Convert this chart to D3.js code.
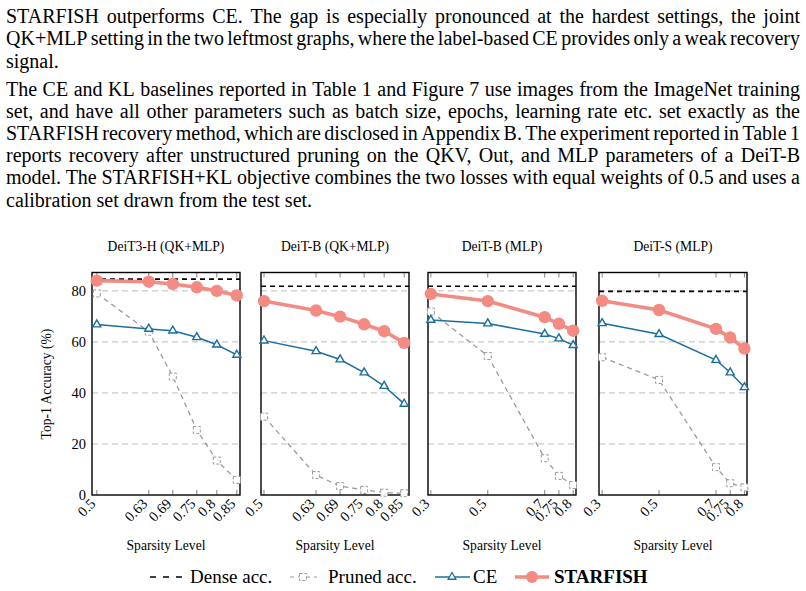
<!DOCTYPE html>
<meta charset="utf-8">
<style>
  body { margin: 0; background: #fff; }
  svg { display: block; }
  text { font-family: "Liberation Serif", "DejaVu Serif", serif; fill: #000; }
</style>
<svg width="806" height="591"></svg>
<script src="https://d3js.org/d3.v7.min.js"></script>
<script>
// paragraph lines, as set in the page
const para1 = [
  "STARFISH outperforms CE. The gap is especially pronounced at the hardest settings, the joint",
  "QK+MLP setting in the two leftmost graphs, where the label-based CE provides only a weak recovery",
  "signal."
];
const para2 = [
  "The CE and KL baselines reported in Table 1 and Figure 7 use images from the ImageNet training",
  "set, and have all other parameters such as batch size, epochs, learning rate etc.  set exactly as the",
  "STARFISH recovery method, which are disclosed in Appendix B. The experiment reported in Table 1",
  "reports recovery after unstructured pruning on the QKV, Out, and MLP parameters of a DeiT-B",
  "model. The STARFISH+KL objective combines the two losses with equal weights of 0.5 and uses a",
  "calibration set drawn from the test set."
];

// chart data
const panelTitles = ["DeiT3-H (QK+MLP)", "DeiT-B (QK+MLP)", "DeiT-B (MLP)", "DeiT-S (MLP)"];
const sparsity = [
  [0.5, 0.63, 0.69, 0.75, 0.8, 0.85],
  [0.5, 0.63, 0.69, 0.75, 0.8, 0.85],
  [0.3, 0.5, 0.7, 0.75, 0.8],
  [0.3, 0.5, 0.7, 0.75, 0.8]
];
const denseAcc = [84.6, 81.8, 81.8, 79.8];
const prunedAcc = [
  [79.0, 64.0, 46.4, 25.5, 13.5, 5.9],
  [30.7, 7.8, 3.5, 2.0, 0.9, 0.7],
  [71.9, 54.5, 14.4, 7.5, 3.9],
  [54.0, 45.1, 10.9, 4.6, 3.0]
];
const ceAcc = [
  [66.8, 65.1, 64.4, 61.8, 58.9, 54.9],
  [60.5, 56.3, 53.1, 48.0, 42.7, 35.7],
  [68.6, 67.2, 63.1, 61.3, 58.7],
  [67.3, 63.0, 52.9, 48.0, 42.2]
];
const starfishAcc = [
  [84.0, 83.6, 82.7, 81.4, 80.0, 78.2],
  [76.0, 72.3, 69.9, 66.9, 64.2, 59.6],
  [78.8, 76.0, 69.7, 67.1, 64.4],
  [76.1, 72.5, 65.1, 61.7, 57.4]
];
const xDomains = [[0.488, 0.858], [0.4925, 0.862], [0.29, 0.81], [0.289, 0.809]];
const yTicks = [0, 20, 40, 60, 80];

const CE_COLOR = "#1a6fa0", SF_COLOR = "#f38b82", PR_COLOR = "#9a9a9a";

var svg = d3.select("svg");
svg.append("rect").attr("width", 806).attr("height", 591).attr("fill", "#fff");

// ---- justified text ----
function drawParagraph(lines, y0, lh) {
  var left = 6, right = 800, size = 20;
  lines.forEach(function(line, i) {
    var words = line.split(/\s+/);
    var g = svg.append("text").attr("y", y0 + i * lh).style("font-size", size + "px");
    var spans = words.map(function(w) { return g.append("tspan").text(w); });
    var widths = spans.map(function(s) { return s.node().getComputedTextLength(); });
    var total = d3.sum(widths);
    var last = i === lines.length - 1;
    var gap = last ? size * 0.25 : (right - left - total) / (words.length - 1);
    var x = left;
    spans.forEach(function(s, k) { s.attr("x", x); x += widths[k] + gap; });
  });
}
drawParagraph(para1, 23, 22.4);
drawParagraph(para2, 95.5, 22.2);

// ---- panels ----
var lefts = [92, 261, 428, 599], pw = 148, plotTop = 272.5, plotBottom = 495;
var y = d3.scaleLinear().domain([0, 87.2]).range([plotBottom, plotTop]);

function prunedMark(sel) {
  sel.append("rect").attr("x", -3.5).attr("y", -3.5).attr("width", 7).attr("height", 7)
    .attr("fill", "#fff").attr("stroke", PR_COLOR).attr("stroke-width", 1)
    .attr("stroke-dasharray", "3,2");
}

panelTitles.forEach(function(title, p) {
  var x = d3.scaleLinear().domain(xDomains[p]).range([lefts[p], lefts[p] + pw]);
  var g = svg.append("g");
  var xs = sparsity[p];

  g.append("text").attr("x", lefts[p] + pw / 2).attr("y", 251).attr("text-anchor", "middle")
    .style("font-size", "13.6px").text(title);

  // grid
  g.selectAll(".grid").data(yTicks.slice(1)).join("line")
    .attr("x1", lefts[p]).attr("x2", lefts[p] + pw)
    .attr("y1", d => y(d)).attr("y2", d => y(d))
    .attr("stroke", "#b5b5b5").attr("stroke-width", 0.9).attr("stroke-dasharray", "6,4");

  // x ticks, inside at top and bottom
  xs.forEach(function(v) {
    g.append("line").attr("x1", x(v)).attr("x2", x(v)).attr("y1", plotBottom).attr("y2", plotBottom - 5)
      .attr("stroke", "#666").attr("stroke-width", 0.8);
    g.append("line").attr("x1", x(v)).attr("x2", x(v)).attr("y1", plotTop).attr("y2", plotTop + 5)
      .attr("stroke", "#666").attr("stroke-width", 0.8);
    g.append("text").attr("transform", "translate(" + (x(v) - 4) + "," + (plotBottom + 6) + ") rotate(-45)")
      .attr("text-anchor", "end").attr("dy", "0.35em").style("font-size", "14.5px").text(v);
  });

  g.append("rect").attr("x", lefts[p]).attr("y", plotTop).attr("width", pw).attr("height", plotBottom - plotTop)
    .attr("fill", "none").attr("stroke", "#000").attr("stroke-width", 1.4);

  if (p === 0) {
    yTicks.forEach(function(v) {
      g.append("text").attr("x", lefts[p] - 6).attr("y", y(v)).attr("dy", "0.35em")
        .attr("text-anchor", "end").style("font-size", "14.5px").text(v);
    });
    g.append("text").attr("transform", "translate(51," + 384 + ") rotate(-90)")
      .attr("text-anchor", "middle").style("font-size", "13.6px").text("Top-1 Accuracy (%)");
  }

  g.append("text").attr("x", lefts[p] + pw / 2).attr("y", 550).attr("text-anchor", "middle")
    .style("font-size", "13.6px").text("Sparsity Level");

  // dense
  g.append("line").attr("x1", lefts[p]).attr("x2", lefts[p] + pw)
    .attr("y1", y(denseAcc[p])).attr("y2", y(denseAcc[p]))
    .attr("stroke", "#000").attr("stroke-width", 1.6).attr("stroke-dasharray", "5,4");

  var line = d3.line().x(d => x(d[0])).y(d => y(d[1]));

  // pruned
  var pr = d3.zip(xs, prunedAcc[p]);
  g.append("path").attr("d", line(pr)).attr("fill", "none").attr("stroke", PR_COLOR)
    .attr("stroke-width", 1.3).attr("stroke-dasharray", "5,4");
  pr.forEach(function(d) {
    prunedMark(g.append("g").attr("transform", "translate(" + x(d[0]) + "," + y(d[1]) + ")"));
  });

  // CE
  var ce = d3.zip(xs, ceAcc[p]);
  g.append("path").attr("d", line(ce)).attr("fill", "none").attr("stroke", CE_COLOR).attr("stroke-width", 1.5);
  g.selectAll(".ce").data(ce).join("path")
    .attr("transform", d => "translate(" + x(d[0]) + "," + y(d[1]) + ")")
    .attr("d", d3.symbol(d3.symbolTriangle, 28)).attr("fill", "#fff")
    .attr("stroke", CE_COLOR).attr("stroke-width", 1.4);

  // STARFISH
  var sf = d3.zip(xs, starfishAcc[p]);
  g.append("path").attr("d", line(sf)).attr("fill", "none").attr("stroke", SF_COLOR).attr("stroke-width", 3.6);
  g.selectAll(".sf").data(sf).join("circle")
    .attr("cx", d => x(d[0])).attr("cy", d => y(d[1])).attr("r", 6.2).attr("fill", SF_COLOR);
});

// ---- legend ----
var ly = 577, lg = svg.append("g");
lg.append("line").attr("x1", 150).attr("x2", 183).attr("y1", ly).attr("y2", ly)
  .attr("stroke", "#000").attr("stroke-width", 1.6).attr("stroke-dasharray", "6,7");
lg.append("text").attr("x", 190).attr("y", ly + 6).style("font-size", "19px").text("Dense acc.");
lg.append("line").attr("x1", 290).attr("x2", 317).attr("y1", ly).attr("y2", ly)
  .attr("stroke", PR_COLOR).attr("stroke-width", 1.2).attr("stroke-dasharray", "4,4");
prunedMark(lg.append("g").attr("transform", "translate(303," + ly + ")"));
lg.append("text").attr("x", 328).attr("y", ly + 6).style("font-size", "19px").text("Pruned acc.");
lg.append("line").attr("x1", 435).attr("x2", 470).attr("y1", ly).attr("y2", ly)
  .attr("stroke", CE_COLOR).attr("stroke-width", 1.4);
lg.append("path").attr("transform", "translate(452," + ly + ")")
  .attr("d", d3.symbol(d3.symbolTriangle, 26)).attr("fill", "#fff").attr("stroke", CE_COLOR).attr("stroke-width", 1.3);
lg.append("text").attr("x", 473).attr("y", ly + 6).style("font-size", "19px").text("CE");
lg.append("line").attr("x1", 515).attr("x2", 549).attr("y1", ly).attr("y2", ly)
  .attr("stroke", SF_COLOR).attr("stroke-width", 3.6);
lg.append("circle").attr("cx", 532).attr("cy", ly).attr("r", 6).attr("fill", SF_COLOR);
lg.append("text").attr("x", 554).attr("y", ly + 6).style("font-size", "19px").style("font-weight", "bold").text("STARFISH");
</script>
